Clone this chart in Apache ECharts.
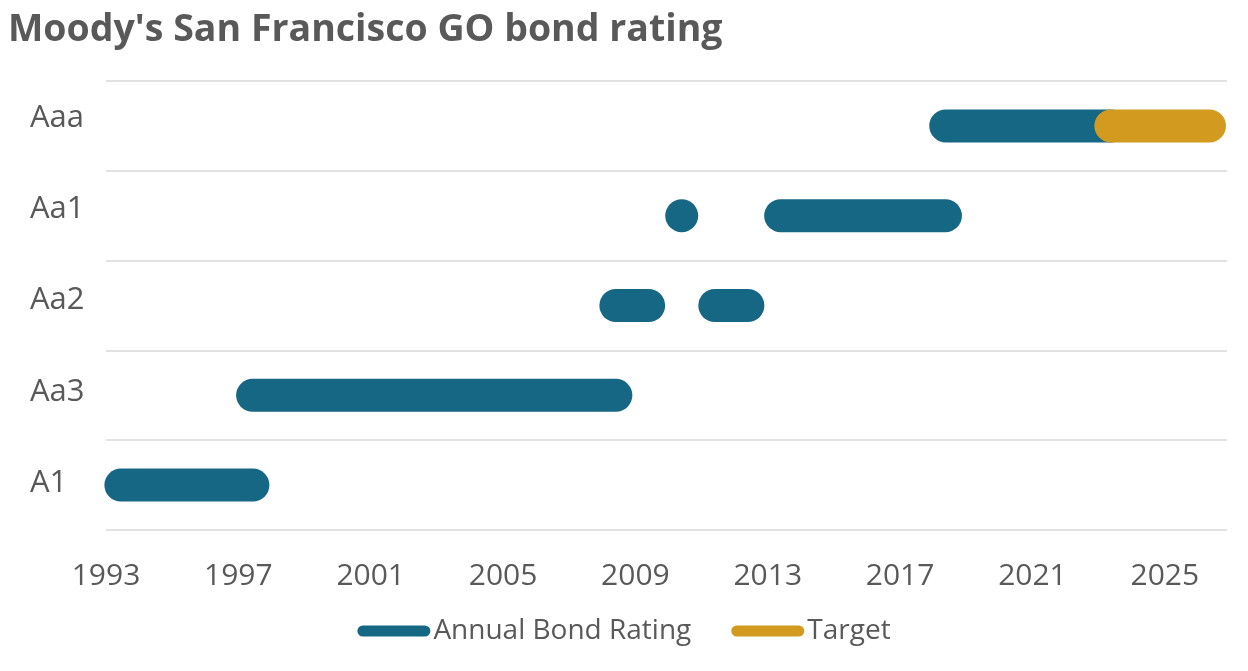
<!DOCTYPE html>
<html>
<head>
<meta charset="utf-8">
<script src="https://cdn.jsdelivr.net/npm/echarts@6/dist/echarts.min.js"></script>
<style>
html,body{margin:0;padding:0;background:#fff;}
#chart{width:1248px;height:671px;}
</style>
</head>
<body>
<div id="chart"></div>
<script>
// ---- data ----
const titleText = "Moody's San Francisco GO bond rating";
const ratings = ['A1', 'Aa3', 'Aa2', 'Aa1', 'Aaa'];
const yearTicks = [1993, 1997, 2001, 2005, 2009, 2013, 2017, 2021, 2025];

// Annual Bond Rating segments (start year, end year, rating)
const annualStart  = [1993.45, 1997.43, 2008.41, 2010.40, 2011.40, 2013.39, 2018.38];
const annualEnd    = [1997.44, 2008.41, 2009.40, 2010.40, 2012.40, 2018.37, 2023.37];
const annualRating = ['A1', 'Aa3', 'Aa2', 'Aa1', 'Aa2', 'Aa1', 'Aaa'];

// Target segment
const targetStart  = [2023.37];
const targetEnd    = [2026.35];
const targetRating = ['Aaa'];

// ---- styles ----
const TEAL = '#166783';
const GOLD = '#D29A1E';
const TEXT = '#595959';
const FONT = "'Open Sans', 'Noto Sans', sans-serif";
const BAR_H = 33;
const LABEL_LIFT = [2, 3, 5, 7, 8]; // small vertical nudges of the rating labels (px)

function buildData(starts, ends, rs) {
  return starts.map((s, i) => [s, ends[i], ratings.indexOf(rs[i])]);
}

function renderPill(params, api) {
  const p0 = api.coord([api.value(0), api.value(2)]);
  const p1 = api.coord([api.value(1), api.value(2)]);
  const h = BAR_H;
  return {
    type: 'rect',
    shape: { x: p0[0] - h / 2, y: p0[1] - h / 2, width: p1[0] - p0[0] + h, height: h, r: h / 2 },
    style: api.style()
  };
}

const pillIcon = 'path://M5.5,0 L67.5,0 A5.5,5.5 0 0 1 67.5,11 L5.5,11 A5.5,5.5 0 0 1 5.5,0 Z';

const rich = {};
LABEL_LIFT.forEach((d, i) => {
  rich['r' + i] = { fontFamily: FONT, fontSize: 31, color: TEXT, padding: [0, 0, 2 * d, 0] };
});

const chart = echarts.init(document.getElementById('chart'), null, { renderer: 'canvas' });
chart.setOption({
  animation: false,
  backgroundColor: '#ffffff',
  title: {
    text: titleText,
    left: 3,
    top: 6,
    textStyle: { fontFamily: FONT, fontWeight: 'bold', fontSize: 37.5, color: TEXT }
  },
  legend: {
    left: 'center',
    top: 612,
    itemWidth: 73,
    itemHeight: 11,
    itemGap: 40,
    data: [
      { name: 'Annual Bond Rating', icon: pillIcon },
      { name: 'Target', icon: pillIcon }
    ],
    textStyle: { fontFamily: FONT, fontSize: 28, color: TEXT, padding: [0, 0, 0, -2] }
  },
  grid: { left: 106, right: 21, top: 81, bottom: 141, containLabel: false },
  xAxis: {
    type: 'value',
    min: yearTicks[0],
    max: 2026.88,
    interval: 4,
    axisLine: { show: false },
    axisTick: { show: false },
    splitLine: { show: false },
    axisLabel: {
      showMaxLabel: false,
      margin: 31,
      fontFamily: FONT, fontSize: 30, color: TEXT,
      formatter: v => (yearTicks.indexOf(v) >= 0 ? String(v) : '')
    }
  },
  yAxis: {
    type: 'category',
    data: ratings,
    boundaryGap: true,
    axisLine: { show: false },
    axisTick: { show: false },
    splitLine: { show: true, lineStyle: { color: '#D9D9D9', width: 1.5 } },
    axisLabel: {
      align: 'left',
      margin: 76,
      fontFamily: FONT, fontSize: 31, color: TEXT,
      formatter: (v, i) => '{r' + i + '|' + v + '}',
      rich: rich
    }
  },
  series: [
    {
      name: 'Annual Bond Rating',
      type: 'custom',
      renderItem: renderPill,
      clip: false,
      itemStyle: { color: TEAL },
      encode: { x: [0, 1], y: 2 },
      data: buildData(annualStart, annualEnd, annualRating)
    },
    {
      name: 'Target',
      type: 'custom',
      renderItem: renderPill,
      clip: false,
      itemStyle: { color: GOLD },
      encode: { x: [0, 1], y: 2 },
      data: buildData(targetStart, targetEnd, targetRating)
    }
  ]
});
</script>
</body>
</html>
